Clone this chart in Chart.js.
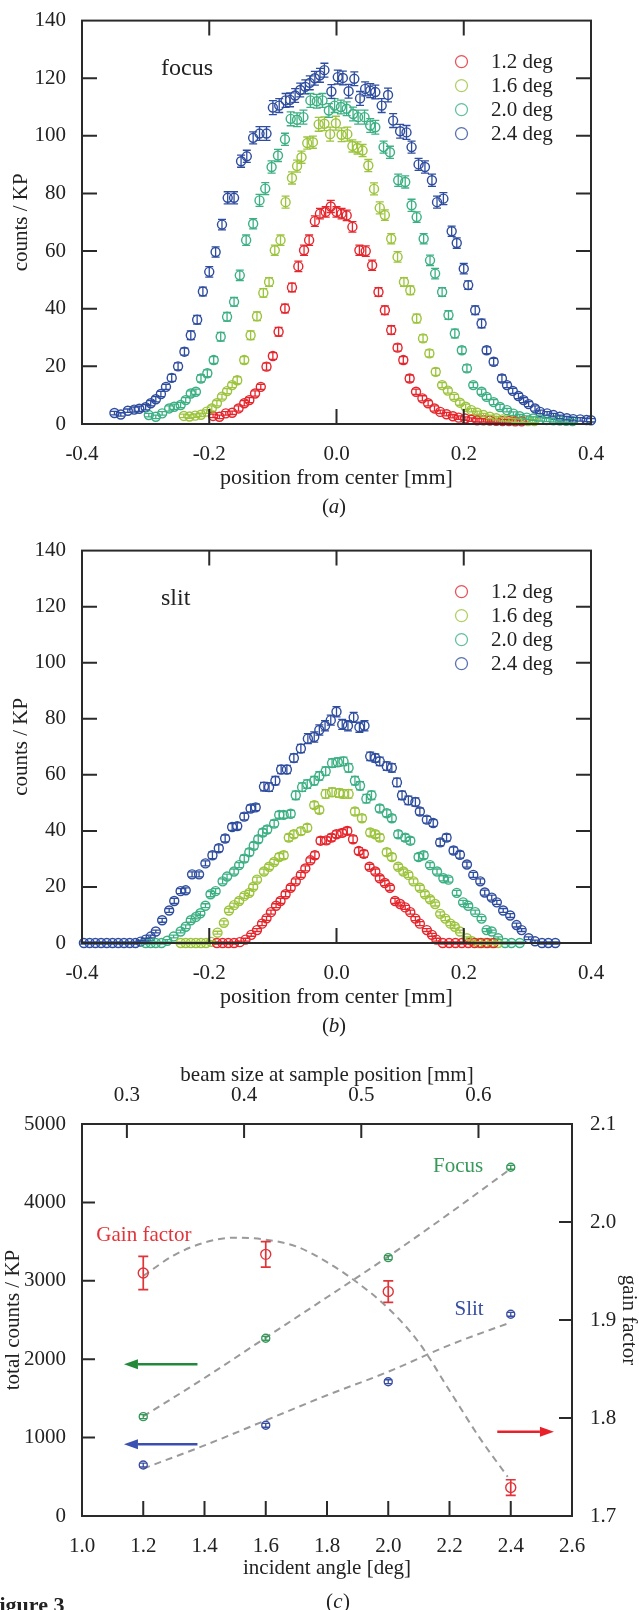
<!DOCTYPE html>
<html>
<head>
<meta charset="utf-8">
<script src="https://cdn.jsdelivr.net/npm/chart.js@4.4.1/dist/chart.umd.min.js"></script>
<style>
  html, body { margin: 0; padding: 0; background: #fff; }
  body { width: 639px; height: 1610px; position: relative; overflow: hidden; }
  canvas { position: absolute; left: 0; }
</style>
</head>
<body>
<canvas id="chartA" width="639" height="530" style="top:0px"></canvas>
<canvas id="chartB" width="639" height="530" style="top:530px"></canvas>
<canvas id="chartC" width="639" height="550" style="top:1060px"></canvas>
<script>
// ---------- data: profiles (a) focus and (b) slit, [position mm, counts/KP, error] ----------
const angleLabels = ["1.2 deg", "1.6 deg", "2.0 deg", "2.4 deg"];
const xTicksAB = [-0.4, -0.2, 0.0, 0.2, 0.4];
const yTicksAB = [0, 20, 40, 60, 80, 100, 120, 140];

const focus12 = [[-0.194,2.8,0.6],[-0.184,2.5,0.6],[-0.174,3.7,0.6],[-0.164,3.9,0.6],[-0.154,5.4,0.9],[-0.145,7.2,0.9],[-0.137,8.3,0.9],[-0.128,10.6,0.9],[-0.119,12.9,0.9],[-0.110,19.9,1.2],[-0.100,23.6,1.2],[-0.091,32.0,1.5],[-0.081,40.1,1.5],[-0.070,47.4,1.5],[-0.060,54.7,1.8],[-0.051,60.3,1.8],[-0.043,63.8,1.8],[-0.034,70.4,1.8],[-0.026,73.0,1.8],[-0.017,73.6,1.8],[-0.009,75.5,2.1],[0.000,73.6,1.8],[0.008,73.0,1.8],[0.016,72.4,1.8],[0.025,68.4,1.8],[0.036,60.3,1.8],[0.046,60.0,1.8],[0.056,55.1,1.8],[0.066,45.8,1.5],[0.076,39.5,1.5],[0.086,32.6,1.5],[0.096,26.5,1.2],[0.105,22.2,1.2],[0.115,15.8,1.2],[0.125,11.2,0.9],[0.135,8.9,0.9],[0.144,7.2,0.9],[0.154,5.4,0.9],[0.163,4.2,0.6],[0.173,3.4,0.6],[0.183,2.7,0.6],[0.192,2.2,0.6],[0.202,1.9,0.6],[0.212,1.5,0.6],[0.221,1.3,0.6],[0.231,1.3,0.6],[0.241,1.2,0.6],[0.251,1.1,0.6],[0.261,1.0,0.6],[0.271,1.0,0.6],[0.281,0.9,0.6],[0.291,0.9,0.6]];
const focus16 = [[-0.240,2.8,0.6],[-0.231,2.6,0.6],[-0.222,2.9,0.6],[-0.213,3.2,0.6],[-0.204,4.3,0.6],[-0.196,5.4,0.9],[-0.188,7.2,0.9],[-0.180,9.5,0.9],[-0.172,11.4,0.9],[-0.164,13.5,0.9],[-0.156,15.2,1.2],[-0.145,22.2,1.2],[-0.135,30.8,1.5],[-0.125,37.4,1.5],[-0.115,45.5,1.5],[-0.106,49.3,1.5],[-0.097,60.3,1.8],[-0.088,63.8,1.8],[-0.080,77.0,2.1],[-0.070,85.4,2.1],[-0.062,89.5,2.1],[-0.055,92.6,2.1],[-0.046,97.5,2.1],[-0.037,97.8,2.1],[-0.028,104.0,2.4],[-0.019,104.2,2.4],[-0.010,100.6,2.4],[-0.001,104.4,2.4],[0.008,100.4,2.4],[0.017,100.6,2.4],[0.025,96.5,2.1],[0.033,95.8,2.1],[0.041,94.9,2.1],[0.050,89.7,2.1],[0.059,81.6,2.1],[0.068,75.0,2.1],[0.076,72.5,1.8],[0.086,64.3,1.8],[0.096,58.0,1.8],[0.106,49.3,1.5],[0.116,46.4,1.5],[0.126,36.6,1.5],[0.136,29.7,1.2],[0.146,24.5,1.2],[0.156,18.1,1.2],[0.166,13.5,0.9],[0.175,11.6,0.9],[0.185,9.4,0.9],[0.194,7.4,0.9],[0.203,6.0,0.9],[0.212,4.8,0.6],[0.221,3.9,0.6],[0.231,3.1,0.6],[0.241,2.5,0.6],[0.251,2.0,0.6],[0.261,1.6,0.6],[0.271,1.4,0.6],[0.281,1.2,0.6],[0.291,1.1,0.6],[0.301,1.0,0.6],[0.311,1.0,0.6]];
const focus20 = [[-0.295,3.1,0.6],[-0.284,2.5,0.6],[-0.274,3.7,0.6],[-0.263,5.4,0.9],[-0.255,6.0,0.9],[-0.245,6.6,0.9],[-0.237,8.3,0.9],[-0.229,10.6,0.9],[-0.221,11.2,0.9],[-0.213,15.8,1.2],[-0.203,17.6,1.2],[-0.193,22.2,1.2],[-0.182,30.3,1.5],[-0.172,37.2,1.5],[-0.161,42.4,1.5],[-0.152,51.6,1.8],[-0.142,63.8,1.8],[-0.131,69.5,1.8],[-0.121,77.6,2.1],[-0.112,81.7,2.1],[-0.102,89.2,2.1],[-0.092,93.2,2.1],[-0.081,98.8,2.1],[-0.072,105.9,2.4],[-0.062,105.6,2.4],[-0.052,106.5,2.4],[-0.041,112.3,2.4],[-0.031,112.0,2.4],[-0.022,112.3,2.4],[-0.012,108.8,2.4],[-0.003,110.5,2.4],[0.007,110.0,2.4],[0.016,109.4,2.4],[0.026,107.6,2.4],[0.034,106.5,2.4],[0.044,106.5,2.4],[0.053,103.6,2.4],[0.061,103.0,2.4],[0.074,96.1,2.1],[0.084,94.3,2.1],[0.097,84.6,2.1],[0.108,84.0,2.1],[0.118,75.9,2.1],[0.126,71.8,1.8],[0.137,64.3,1.8],[0.147,56.8,1.8],[0.155,52.2,1.8],[0.166,45.8,1.5],[0.176,37.8,1.5],[0.186,31.4,1.5],[0.197,25.6,1.2],[0.205,19.3,1.2],[0.215,13.5,0.9],[0.228,11.2,0.9],[0.236,9.4,0.9],[0.247,7.6,0.9],[0.257,5.9,0.9],[0.268,4.8,0.6],[0.278,3.6,0.6],[0.288,2.7,0.6],[0.299,2.2,0.6],[0.309,1.9,0.6],[0.320,1.6,0.6],[0.330,1.4,0.6],[0.341,1.3,0.6],[0.351,1.2,0.6],[0.361,1.1,0.6],[0.371,1.0,0.6]];
const focus24 = [[-0.349,3.8,0.6],[-0.339,3.3,0.6],[-0.328,4.6,0.6],[-0.318,5.0,0.9],[-0.310,5.3,0.9],[-0.300,5.8,0.9],[-0.292,7.2,0.9],[-0.284,8.6,0.9],[-0.276,10.4,0.9],[-0.268,12.9,0.9],[-0.259,16.0,1.2],[-0.249,20.0,1.2],[-0.239,25.1,1.2],[-0.229,30.8,1.5],[-0.219,36.2,1.5],[-0.210,46.0,1.5],[-0.200,52.8,1.8],[-0.190,59.7,1.8],[-0.180,69.2,1.8],[-0.171,78.5,2.1],[-0.161,78.5,2.1],[-0.150,91.2,2.1],[-0.141,92.9,2.1],[-0.131,99.3,2.1],[-0.121,100.8,2.4],[-0.110,100.8,2.4],[-0.100,109.8,2.4],[-0.090,110.5,2.4],[-0.080,112.3,2.4],[-0.073,112.5,2.4],[-0.065,114.0,2.4],[-0.057,115.9,2.4],[-0.049,117.0,2.4],[-0.042,118.4,2.4],[-0.034,120.0,2.4],[-0.026,121.0,2.4],[-0.019,122.8,2.4],[-0.008,115.4,2.4],[0.002,120.4,2.4],[0.010,120.1,2.4],[0.019,115.5,2.4],[0.028,119.8,2.4],[0.037,113.0,2.4],[0.045,116.3,2.4],[0.053,115.7,2.4],[0.061,115.2,2.4],[0.071,110.5,2.4],[0.081,114.2,2.4],[0.089,105.3,2.4],[0.100,101.6,2.4],[0.110,101.2,2.4],[0.118,96.1,2.1],[0.129,90.1,2.1],[0.139,89.2,2.1],[0.150,84.6,2.1],[0.158,77.0,2.1],[0.168,78.2,2.1],[0.181,66.9,1.8],[0.189,62.8,1.8],[0.200,53.9,1.8],[0.207,48.2,1.5],[0.218,39.5,1.5],[0.228,34.9,1.5],[0.236,25.6,1.2],[0.247,21.6,1.2],[0.260,15.8,1.2],[0.268,13.5,0.9],[0.277,11.5,0.9],[0.286,9.7,0.9],[0.294,8.3,0.9],[0.302,6.9,0.9],[0.312,5.4,0.9],[0.320,4.2,0.6],[0.331,3.7,0.6],[0.341,3.1,0.6],[0.351,2.5,0.6],[0.362,2.0,0.6],[0.372,1.7,0.6],[0.383,1.6,0.6],[0.393,1.4,0.6],[0.400,1.3,0.6]];

const slit12 = [[-0.188,0,0.4],[-0.179,0,0.4],[-0.170,0,0.4],[-0.161,0,0.4],[-0.152,0.3,0.4],[-0.143,1.2,0.5],[-0.134,2.9,0.5],[-0.125,4.6,0.5],[-0.117,6.9,0.7],[-0.110,8.8,0.7],[-0.103,11.0,0.7],[-0.095,13.3,0.7],[-0.088,15.0,0.9],[-0.080,17.4,0.9],[-0.072,19.7,0.9],[-0.064,22.0,0.9],[-0.056,24.3,0.9],[-0.049,26.6,0.9],[-0.041,29.5,0.9],[-0.034,31.3,1.2],[-0.025,36.5,1.2],[-0.016,36.6,1.2],[-0.008,37.6,1.2],[0.000,38.8,1.2],[0.009,39.3,1.2],[0.017,40.0,1.2],[0.026,37.0,1.2],[0.035,32.8,1.2],[0.043,31.8,1.2],[0.052,27.2,0.9],[0.061,25.5,0.9],[0.068,23.1,0.9],[0.076,21.4,0.9],[0.084,19.7,0.9],[0.092,15.0,0.9],[0.100,13.9,0.7],[0.108,12.7,0.7],[0.116,11.0,0.7],[0.124,8.7,0.7],[0.131,6.9,0.7],[0.142,4.6,0.5],[0.150,2.9,0.5],[0.157,1.2,0.5],[0.167,0,0.4],[0.177,0,0.4],[0.187,0,0.4],[0.197,0,0.4],[0.207,0,0.4],[0.217,0,0.4],[0.227,0,0.4],[0.237,0,0.4],[0.247,0,0.4]];
const slit16 = [[-0.245,0,0.4],[-0.237,0,0.4],[-0.229,0,0.4],[-0.221,0,0.4],[-0.213,0,0.4],[-0.205,0,0.4],[-0.197,0.4,0.4],[-0.187,3.7,0.5],[-0.177,7.2,0.7],[-0.169,11.6,0.7],[-0.161,13.5,0.7],[-0.153,15.0,0.9],[-0.145,16.8,0.9],[-0.137,17.9,0.9],[-0.131,20.0,0.9],[-0.125,22.6,0.9],[-0.114,25.5,0.9],[-0.106,27.2,0.9],[-0.098,28.9,0.9],[-0.090,30.7,1.2],[-0.083,31.3,1.2],[-0.075,37.6,1.2],[-0.067,38.8,1.2],[-0.056,39.9,1.2],[-0.046,41.1,1.2],[-0.035,49.2,1.2],[-0.027,47.5,1.2],[-0.017,53.2,1.5],[-0.007,53.8,1.5],[0.004,53.5,1.5],[0.011,53.2,1.5],[0.019,53.2,1.5],[0.029,46.9,1.2],[0.040,44.5,1.2],[0.053,39.4,1.2],[0.061,38.8,1.2],[0.068,37.6,1.2],[0.079,32.4,1.2],[0.087,30.7,1.2],[0.097,27.2,0.9],[0.105,25.5,0.9],[0.113,24.3,0.9],[0.121,22.0,0.9],[0.131,19.7,0.9],[0.139,17.4,0.9],[0.147,15.6,0.9],[0.155,13.9,0.7],[0.163,10.4,0.7],[0.171,8.7,0.7],[0.179,6.9,0.7],[0.186,5.8,0.7],[0.194,4.1,0.5],[0.205,1.7,0.5],[0.213,0.6,0.4],[0.223,0,0.4],[0.234,0,0.4],[0.244,0,0.4],[0.254,0,0.4]];
const slit20 = [[-0.300,0,0.4],[-0.292,0,0.4],[-0.284,0,0.4],[-0.275,0,0.4],[-0.266,0.8,0.4],[-0.256,2.3,0.5],[-0.245,4.1,0.5],[-0.237,5.8,0.7],[-0.229,8.1,0.7],[-0.221,9.3,0.7],[-0.214,10.6,0.7],[-0.206,13.3,0.7],[-0.198,17.4,0.9],[-0.190,18.5,0.9],[-0.179,22.0,0.9],[-0.172,23.7,0.9],[-0.161,25.5,0.9],[-0.153,27.8,0.9],[-0.145,30.1,1.2],[-0.137,32.4,1.2],[-0.130,34.7,1.2],[-0.123,37.0,1.2],[-0.116,39.4,1.2],[-0.109,40.5,1.2],[-0.098,42.6,1.2],[-0.090,45.7,1.2],[-0.083,45.7,1.2],[-0.072,46.1,1.2],[-0.064,52.7,1.5],[-0.054,55.6,1.5],[-0.046,56.7,1.5],[-0.035,57.9,1.5],[-0.027,59.6,1.5],[-0.017,61.3,1.5],[-0.007,64.2,1.5],[0.002,64.5,1.5],[0.011,64.8,1.5],[0.019,62.5,1.5],[0.029,57.9,1.5],[0.037,56.1,1.5],[0.047,51.5,1.5],[0.055,52.7,1.5],[0.068,48.0,1.2],[0.079,46.3,1.2],[0.087,44.5,1.2],[0.097,38.8,1.2],[0.108,37.6,1.2],[0.116,36.5,1.2],[0.129,30.7,1.2],[0.137,31.3,1.2],[0.147,27.8,0.9],[0.158,25.5,0.9],[0.168,23.1,0.9],[0.176,22.6,0.9],[0.189,17.9,0.9],[0.199,14.5,0.7],[0.207,13.3,0.7],[0.218,11.0,0.7],[0.228,8.7,0.7],[0.236,4.6,0.5],[0.244,4.1,0.5],[0.254,1.7,0.5],[0.265,0,0.4],[0.275,0,0.4],[0.288,0,0.4]];
const slit24 = [[-0.397,0,0.4],[-0.388,0,0.4],[-0.379,0,0.4],[-0.370,0,0.4],[-0.361,0,0.4],[-0.352,0,0.4],[-0.343,0,0.4],[-0.334,0,0.4],[-0.325,0,0.4],[-0.316,0,0.4],[-0.308,0.5,0.4],[-0.300,1.2,0.5],[-0.292,2.3,0.5],[-0.284,4.1,0.5],[-0.274,8.1,0.7],[-0.263,11.6,0.7],[-0.255,15.0,0.9],[-0.245,18.5,0.9],[-0.237,18.8,0.9],[-0.227,24.5,0.9],[-0.216,24.5,0.9],[-0.206,28.4,0.9],[-0.195,31.3,1.2],[-0.185,33.8,1.2],[-0.175,37.3,1.2],[-0.164,41.4,1.2],[-0.156,41.7,1.2],[-0.145,45.1,1.2],[-0.135,48.0,1.2],[-0.127,48.4,1.2],[-0.114,55.8,1.5],[-0.106,55.6,1.5],[-0.096,57.9,1.5],[-0.087,61.9,1.5],[-0.078,61.9,1.5],[-0.067,66.0,1.5],[-0.056,69.4,1.5],[-0.045,72.9,1.8],[-0.035,73.5,1.8],[-0.027,76.0,1.8],[-0.018,77.5,1.8],[-0.009,79.5,1.8],[0.000,82.5,1.8],[0.009,78.0,1.8],[0.018,77.5,1.8],[0.027,80.5,1.8],[0.036,77.0,1.8],[0.044,77.5,1.8],[0.053,66.6,1.5],[0.061,66.0,1.5],[0.068,64.8,1.5],[0.079,63.1,1.5],[0.087,62.5,1.5],[0.095,57.3,1.5],[0.103,52.7,1.5],[0.113,50.9,1.5],[0.124,50.3,1.5],[0.131,46.9,1.2],[0.142,44.0,1.2],[0.152,42.8,1.2],[0.163,35.9,1.2],[0.173,37.6,1.2],[0.184,33.0,1.2],[0.194,31.5,1.2],[0.205,28.0,0.9],[0.215,24.3,0.9],[0.226,22.0,0.9],[0.233,18.0,0.9],[0.244,16.2,0.9],[0.252,14.5,0.7],[0.262,11.6,0.7],[0.273,9.8,0.7],[0.283,6.4,0.7],[0.291,4.6,0.5],[0.302,1.7,0.5],[0.312,0.6,0.4],[0.323,0,0.4],[0.333,0,0.4],[0.344,0,0.4]];

// ---------- data: (c) totals and gain factor ----------
const angles = [1.2, 1.6, 2.0, 2.4];
const focusTotal = [1267, 2267, 3295, 4448];
const slitTotal = [650, 1157, 1713, 2573];
const totalErr = [25, 25, 25, 25];
const gainFactor = [1.948, 1.967, 1.929, 1.729];
const gainErr = [0.017, 0.013, 0.011, 0.008];

const focusFitX = [1.2, 1.4, 1.6, 1.8, 2.0, 2.2, 2.4];
const focusFitY = [1270, 1760, 2275, 2790, 3310, 3860, 4430];
const slitFitX = [1.2, 1.4, 1.6, 1.8, 2.0, 2.2, 2.4];
const slitFitY = [605, 900, 1220, 1540, 1840, 2180, 2470];
const gainFitX = [1.2, 1.3, 1.4, 1.5, 1.6, 1.7, 1.8, 1.9, 2.0, 2.1, 2.2, 2.3, 2.39];
const gainFitY = [1.945, 1.966, 1.979, 1.984, 1.982, 1.975, 1.959, 1.938, 1.912, 1.877, 1.828, 1.779, 1.740];

const xTicksC = [1.0, 1.2, 1.4, 1.6, 1.8, 2.0, 2.2, 2.4, 2.6];
const yTicksC = [0, 1000, 2000, 3000, 4000, 5000];
const gainTicks = [1.7, 1.8, 1.9, 2.0, 2.1];
const beamTicks = [0.3, 0.4, 0.5, 0.6];
const beamRange = [0.2617, 0.6798];   // beam size at incident angle 1.0 and 2.6

// arrows: [from angle, to angle, value]
const focusArrow = [1.377, 1.137, 1935];
const slitArrow = [1.377, 1.137, 915];
const gainArrow = [2.356, 2.541, 1.786];

// ---------- style ----------
const seriesColors = ["#e5262d", "#9cc43c", "#3cb084", "#2f4d9e"];
const cRed = "#e0343a", cGreen = "#37995a", cBlue = "#3a4fa2";
const ink = "#222";
const serif = "'Liberation Serif', 'Times New Roman', serif";
Chart.defaults.font.family = serif;
Chart.defaults.color = ink;

const pts = arr => arr.map(([x, y, e]) => ({ x, y, e }));
const zip = (xs, ys, es) => xs.map((x, i) => ({ x, y: ys[i], e: es ? es[i] : 0 }));
const fmt1 = v => (Math.abs(v) < 1e-9 ? 0 : v).toFixed(1);
const setTicks = list => s => { s.ticks = list.map(v => ({ value: v })); };

function text(ctx, str, x, y, font, color, align, rot) {
  ctx.save();
  ctx.translate(x, y);
  if (rot) ctx.rotate(rot);
  ctx.font = font;
  ctx.fillStyle = color;
  ctx.textAlign = align || "center";
  ctx.textBaseline = "middle";
  ctx.fillText(str, 0, 0);
  ctx.restore();
}

function frame(ctx, a) {
  ctx.save();
  ctx.strokeStyle = "#2a2a2a";
  ctx.lineWidth = 2;
  ctx.strokeRect(a.left, a.top, a.right - a.left, a.bottom - a.top);
  ctx.restore();
}

function innerTicks(ctx, scale, values, a, sides, len) {
  ctx.save();
  ctx.strokeStyle = "#2a2a2a";
  ctx.lineWidth = 2;
  ctx.beginPath();
  values.forEach(v => {
    const p = scale.getPixelForValue(v);
    sides.forEach(side => {
      if (side === "bottom" || side === "top") {
        if (p < a.left + 2 || p > a.right - 2) return;
        const y0 = side === "bottom" ? a.bottom : a.top;
        ctx.moveTo(p, y0);
        ctx.lineTo(p, side === "bottom" ? y0 - len : y0 + len);
      } else {
        if (p < a.top + 2 || p > a.bottom - 2) return;
        const x0 = side === "left" ? a.left : a.right;
        ctx.moveTo(x0, p);
        ctx.lineTo(side === "left" ? x0 + len : x0 - len, p);
      }
    });
  });
  ctx.stroke();
  ctx.restore();
}

const errorBars = {
  id: "errorBars",
  afterDatasetsDraw(chart) {
    const ctx = chart.ctx;
    chart.data.datasets.forEach((ds, i) => {
      if (!ds.errCap) return;
      const meta = chart.getDatasetMeta(i);
      const ys = chart.scales[meta.yAxisID];
      ctx.save();
      ctx.strokeStyle = ds.borderColor;
      ctx.lineWidth = ds.errWidth || 1.3;
      ctx.beginPath();
      meta.data.forEach((pt, j) => {
        const d = ds.data[j];
        const y1 = ys.getPixelForValue(d.y - d.e);
        const y2 = ys.getPixelForValue(d.y + d.e);
        const w = ds.errCap;
        ctx.moveTo(pt.x, y1); ctx.lineTo(pt.x, y2);
        ctx.moveTo(pt.x - w, y1); ctx.lineTo(pt.x + w, y1);
        ctx.moveTo(pt.x - w, y2); ctx.lineTo(pt.x + w, y2);
      });
      ctx.stroke();
      ctx.restore();
    });
  }
};

// ---------- panels (a) and (b) ----------
function profileChart(id, series, tag, caption, topPad, xAxisHeight) {
  const decor = {
    id: "profileDecor",
    afterDraw(chart) {
      const { ctx, chartArea: a, scales } = chart;
      frame(ctx, a);
      innerTicks(ctx, scales.x, xTicksAB, a, ["bottom", "top"], 15);
      innerTicks(ctx, scales.y, yTicksAB, a, ["left", "right"], 15);
      // legend
      [41, 65, 89, 113].forEach((dy, i) => {
        const y = a.top + dy;
        ctx.save();
        ctx.strokeStyle = seriesColors[i];
        ctx.globalAlpha = 0.8;
        ctx.lineWidth = 1.3;
        ctx.beginPath();
        ctx.arc(461.5, y, 6, 0, Math.PI * 2);
        ctx.stroke();
        ctx.restore();
        text(ctx, angleLabels[i], 491, y + 1, "21px " + serif, ink, "left");
      });
      text(ctx, tag, 161, a.top + 48, "24px " + serif, ink, "left");
      text(ctx, "position from center [mm]", 336.5, a.bottom + 54, "22px " + serif, ink);
      text(ctx, "(", 329, a.bottom + 83, "21px " + serif, ink, "right");
      text(ctx, caption, 334, a.bottom + 83, "italic 21px " + serif, ink);
      text(ctx, ")", 339, a.bottom + 83, "21px " + serif, ink, "left");
      text(ctx, "counts / KP", 21, (a.top + a.bottom) / 2, "21px " + serif, ink, "center", -Math.PI / 2);
    }
  };
  return new Chart(document.getElementById(id), {
    type: "scatter",
    data: {
      datasets: series.map((s, i) => ({
        label: angleLabels[i],
        data: pts(s),
        borderColor: seriesColors[i],
        backgroundColor: "rgba(0,0,0,0)",
        pointRadius: 4.5,
        pointHoverRadius: 4.5,
        pointBorderWidth: 1.4,
        errCap: 4,
        clip: false,
      })),
    },
    options: {
      responsive: false,
      animation: false,
      devicePixelRatio: 1,
      events: [],
      layout: { padding: { top: topPad, right: 48, left: 0, bottom: 0 } },
      plugins: { legend: { display: false }, tooltip: { enabled: false } },
      scales: {
        x: {
          type: "linear", min: -0.4, max: 0.4,
          afterBuildTicks: setTicks(xTicksAB),
          afterFit: s => { s.height = xAxisHeight; },
          grid: { display: false }, border: { display: false },
          ticks: { autoSkip: false, maxRotation: 0, padding: 10, font: { size: 21 }, color: ink, callback: fmt1 },
        },
        y: {
          type: "linear", min: 0, max: 140,
          afterBuildTicks: setTicks(yTicksAB),
          afterFit: s => { s.width = 82; },
          grid: { display: false }, border: { display: false },
          ticks: { padding: 8, font: { size: 21 }, color: ink, callback: v => String(v) },
        },
      },
    },
    plugins: [errorBars, decor],
  });
}

profileChart("chartA", [focus12, focus16, focus20, focus24], "focus", "a", 20, 106);
profileChart("chartB", [slit12, slit16, slit20, slit24], "slit", "b", 10, 117);

// ---------- panel (c) ----------
function arrow(ctx, x1, x2, y, color) {
  const dir = Math.sign(x2 - x1), L = 14, W = 5;
  ctx.save();
  ctx.strokeStyle = color; ctx.fillStyle = color; ctx.lineWidth = 2.5;
  ctx.beginPath(); ctx.moveTo(x1, y); ctx.lineTo(x2 - dir * L, y); ctx.stroke();
  ctx.beginPath();
  ctx.moveTo(x2, y); ctx.lineTo(x2 - dir * L, y - W); ctx.lineTo(x2 - dir * L, y + W);
  ctx.closePath(); ctx.fill();
  ctx.restore();
}

const decorC = {
  id: "decorC",
  afterDraw(chart) {
    const { ctx, chartArea: a, scales } = chart;
    frame(ctx, a);
    innerTicks(ctx, scales.x, xTicksC, a, ["bottom"], 15);
    innerTicks(ctx, scales.xTop, beamTicks, a, ["top"], 14);
    innerTicks(ctx, scales.y, yTicksC, a, ["left"], 13);
    innerTicks(ctx, scales.y2, gainTicks, a, ["right"], 13);
    const X = v => scales.x.getPixelForValue(v);
    arrow(ctx, X(focusArrow[0]), X(focusArrow[1]), scales.y.getPixelForValue(focusArrow[2]), "#23893a");
    arrow(ctx, X(slitArrow[0]), X(slitArrow[1]), scales.y.getPixelForValue(slitArrow[2]), "#3a4fb0");
    arrow(ctx, X(gainArrow[0]), X(gainArrow[1]), scales.y2.getPixelForValue(gainArrow[2]), "#e8202a");
    text(ctx, "Focus", X(2.228), scales.y.getPixelForValue(4455), "21px " + serif, cGreen);
    text(ctx, "Slit", X(2.264), scales.y.getPixelForValue(2628), "21px " + serif, cBlue);
    text(ctx, "Gain factor", X(1.202), scales.y.getPixelForValue(3584), "21px " + serif, cRed);
    text(ctx, "beam size at sample position [mm]", 327, 15, "21px " + serif, ink);
    text(ctx, "incident angle [deg]", 327, 508, "21px " + serif, ink);
    text(ctx, "(", 333, 542, "21px " + serif, ink, "right");
    text(ctx, "c", 338, 542, "italic 21px " + serif, ink);
    text(ctx, ")", 343, 542, "21px " + serif, ink, "left");
    text(ctx, "total counts / KP", 13, (a.top + a.bottom) / 2, "21px " + serif, ink, "center", -Math.PI / 2);
    text(ctx, "gain factor", 629, (a.top + a.bottom) / 2, "21px " + serif, ink, "center", Math.PI / 2);
    ctx.save();
    ctx.font = "bold 22px " + serif;
    ctx.fillStyle = ink;
    ctx.textBaseline = "alphabetic";
    ctx.fillText("Figure 3", -14, 552);
    ctx.restore();
  }
};

const fitStyle = { showLine: true, borderColor: "#9a9a9a", borderWidth: 2, borderDash: [7, 5], pointRadius: 0, cubicInterpolationMode: "monotone", order: 2, clip: false };

new Chart(document.getElementById("chartC"), {
  type: "scatter",
  data: {
    datasets: [
      { label: "Focus", data: zip(angles, focusTotal, totalErr), yAxisID: "y", borderColor: cGreen, backgroundColor: "rgba(0,0,0,0)", pointRadius: 4, pointBorderWidth: 1.4, errCap: 4, order: 1, clip: false },
      { label: "Slit", data: zip(angles, slitTotal, totalErr), yAxisID: "y", borderColor: cBlue, backgroundColor: "rgba(0,0,0,0)", pointRadius: 4, pointBorderWidth: 1.4, errCap: 4, order: 1, clip: false },
      { label: "Gain factor", data: zip(angles, gainFactor, gainErr), yAxisID: "y2", borderColor: cRed, backgroundColor: "rgba(0,0,0,0)", pointRadius: 5, pointBorderWidth: 1.4, errCap: 5, errWidth: 1.7, order: 1, clip: false },
      Object.assign({ label: "Focus fit", data: zip(focusFitX, focusFitY), yAxisID: "y" }, fitStyle),
      Object.assign({ label: "Slit fit", data: zip(slitFitX, slitFitY), yAxisID: "y" }, fitStyle),
      Object.assign({ label: "Gain fit", data: zip(gainFitX, gainFitY), yAxisID: "y2" }, fitStyle),
    ],
  },
  options: {
    responsive: false,
    animation: false,
    devicePixelRatio: 1,
    events: [],
    layout: { padding: 0 },
    plugins: { legend: { display: false }, tooltip: { enabled: false } },
    scales: {
      x: {
        type: "linear", position: "bottom", min: 1.0, max: 2.6,
        afterBuildTicks: setTicks(xTicksC),
        afterFit: s => { s.height = 94; },
        grid: { display: false }, border: { display: false },
        ticks: { autoSkip: false, maxRotation: 0, padding: 10, font: { size: 21 }, color: ink, callback: fmt1 },
      },
      xTop: {
        type: "linear", position: "top", min: beamRange[0], max: beamRange[1],
        afterBuildTicks: setTicks(beamTicks),
        afterFit: s => { s.height = 64; },
        grid: { display: false }, border: { display: false },
        ticks: { autoSkip: false, maxRotation: 0, padding: 8, font: { size: 21 }, color: ink, callback: fmt1 },
      },
      y: {
        type: "linear", position: "left", min: 0, max: 5000,
        afterBuildTicks: setTicks(yTicksC),
        afterFit: s => { s.width = 82; },
        grid: { display: false }, border: { display: false },
        ticks: { padding: 8, font: { size: 21 }, color: ink, callback: v => String(v) },
      },
      y2: {
        type: "linear", position: "right", min: 1.7, max: 2.1,
        afterBuildTicks: setTicks(gainTicks),
        afterFit: s => { s.width = 67; },
        grid: { display: false }, border: { display: false },
        ticks: { padding: 10, font: { size: 21 }, color: ink, callback: fmt1 },
      },
    },
  },
  plugins: [errorBars, decorC],
});
</script>
</body>
</html>
